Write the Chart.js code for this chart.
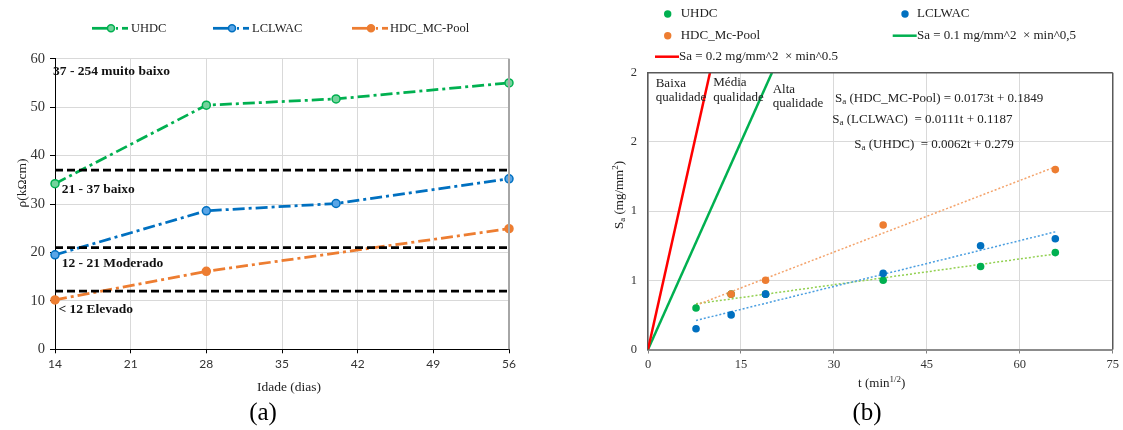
<!DOCTYPE html>
<html><head><meta charset="utf-8">
<script src="https://cdn.jsdelivr.net/npm/chart.js@4.4.0/dist/chart.umd.min.js"></script>
<style>
html,body{margin:0;padding:0;background:#fff;width:1123px;height:430px;overflow:hidden}
#wa{position:absolute;left:0;top:0;width:560px;height:430px}
#wb{position:absolute;left:560px;top:0;width:563px;height:430px}
canvas{display:block}
</style></head><body>
<div id="wa"><canvas id="ca" width="560" height="430"></canvas></div>
<div id="wb"><canvas id="cb" width="563" height="430"></canvas></div>
<script>
// ---------- (a) data ----------
const agesUHDC = [14, 28, 40, 56];
const rhoUHDC = [34.2, 50.4, 51.7, 55.0];
const agesLCLWAC = [14, 28, 40, 56];
const rhoLCLWAC = [19.5, 28.6, 30.1, 35.2];
const agesHDC = [14, 28, 56];
const rhoHDC = [10.2, 16.1, 24.9];
const thresholds = [37, 21, 12];
const ageRange = [14, 56];
const riskLabels = ['37 - 254 muito baixo', '21 - 37 baixo', '12 - 21 Moderado', '< 12 Elevado'];
const seriesNames = ['UHDC', 'LCLWAC', 'HDC_MC-Pool'];
const xTicksA = [14, 21, 28, 35, 42, 49, 56];
const yTicksA = [0, 10, 20, 30, 40, 50, 60];

// ---------- (b) data ----------
const tUHDC = [7.75, 13.42, 18.97, 37.95, 53.67, 65.73];
const sUHDC = [0.30, 0.40, 0.40, 0.50, 0.60, 0.70];
const tLCLWAC = [7.75, 13.42, 18.97, 37.95, 53.67, 65.73];
const sLCLWAC = [0.15, 0.25, 0.40, 0.55, 0.75, 0.80];
const tHDC = [13.42, 18.97, 37.95, 65.73];
const sHDC = [0.40, 0.50, 0.90, 1.30];
const trendT = [7.75, 65.73];
const trendUHDC = [0.33, 0.69];
const trendLCLWAC = [0.21, 0.85];
const trendHDC = [0.32, 1.32];
const limit02T = [0, 10], limit02S = [0, 2];
const limit01T = [0, 20], limit01S = [0, 2];
const legendB = ['UHDC', 'LCLWAC', 'HDC_Mc-Pool', 'Sa = 0.1 mg/mm^2  \u00d7 min^0,5', 'Sa = 0.2 mg/mm^2  \u00d7 min^0.5'];
const equations = [['(HDC_MC-Pool) = 0.0173t + 0.1849'], ['(LCLWAC)  = 0.0111t + 0.1187'], ['(UHDC)  = 0.0062t + 0.279']];
const zoneLabels = [['Baixa', 'qualidade'], ['M\u00e9dia', 'qualidade'], ['Alta', 'qualidade']];
const xTicksB = [0, 15, 30, 45, 60, 75];
const yTicksB = [0, 0.5, 1, 1.5, 2];

const SERIF = '"Liberation Serif", "Times New Roman", serif';
const GREEN = '#00b050', BLUE = '#0070c0', ORANGE = '#ed7d31';
const pts = (xs, ys) => xs.map((x, i) => ({x: x, y: ys[i]}));

function fnt(p, fam) { return (p.bold ? 'bold ' : '') + p.size + 'px ' + (p.fam || fam || SERIF); }
function drawRich(ctx, parts, x, y, align, color) {
  let w = 0;
  parts.forEach(p => { ctx.font = fnt(p); p.w = ctx.measureText(p.t).width; w += p.w; });
  let cx = align === 'center' ? x - w / 2 : (align === 'right' ? x - w : x);
  ctx.textAlign = 'left'; ctx.textBaseline = 'middle'; ctx.fillStyle = color || '#111';
  parts.forEach(p => { ctx.font = fnt(p); ctx.fillText(p.t, cx, y + (p.dy || 0)); cx += p.w; });
}
function dot(ctx, x, y, r, fill, stroke, lw) {
  ctx.beginPath(); ctx.arc(x, y, r, 0, Math.PI * 2);
  ctx.fillStyle = fill; ctx.fill();
  if (stroke) { ctx.lineWidth = lw || 1.5; ctx.strokeStyle = stroke; ctx.stroke(); }
}
function seg(ctx, x1, y1, x2, y2, color, lw, dash) {
  ctx.save(); ctx.beginPath(); ctx.setLineDash(dash || []); ctx.moveTo(x1, y1); ctx.lineTo(x2, y2);
  ctx.strokeStyle = color; ctx.lineWidth = lw; ctx.stroke(); ctx.restore();
}

// ---------- chart (a) ----------
const dashDot = [12, 4, 3, 4];
const thrSets = thresholds.map(t => ({
  data: pts(ageRange, [t, t]), borderColor: '#000', borderWidth: 2.75, borderDash: [8, 4],
  pointRadius: 0, fill: false, order: 0
}));
const annotA = {
  id: 'annotA',
  afterDraw(chart) {
    const ctx = chart.ctx, a = chart.chartArea;
    ctx.save();
    seg(ctx, a.right, a.top, a.right, a.bottom, '#a6a6a6', 2);
    const items = [
      {x: 92, c: GREEN, f: '#74d39c', tx: 131, name: seriesNames[0]},
      {x: 213, c: BLUE, f: '#5aa5e6', tx: 252, name: seriesNames[1]},
      {x: 352, c: ORANGE, f: ORANGE, tx: 390, name: seriesNames[2]}
    ];
    const ly = 28.3;
    items.forEach(it => {
      seg(ctx, it.x, ly, it.x + 18, ly, it.c, 2.75);
      dot(ctx, it.x + 19, ly, 3.5, it.f, it.c, 1.5);
      seg(ctx, it.x + 24, ly, it.x + 26, ly, it.c, 2.75);
      seg(ctx, it.x + 30, ly, it.x + 36, ly, it.c, 2.75);
      drawRich(ctx, [{t: it.name, size: 12.5}], it.tx, ly, 'left', '#222');
    });
    const lp = [[53, 71.7], [61.7, 189.3], [61.7, 263.3], [58.5, 310]];
    riskLabels.forEach((s, i) => drawRich(ctx, [{t: s, size: 13.5, bold: true}], lp[i][0], lp[i][1], 'left', '#111'));
    ctx.save(); ctx.translate(22, 183); ctx.rotate(-Math.PI / 2);
    drawRich(ctx, [{t: '\u03c1(k\u03a9cm)', size: 13.5}], 0, 0, 'center', '#222');
    ctx.restore();
    drawRich(ctx, [{t: 'Idade (dias)', size: 13.5}], 289, 387, 'center', '#222');
    drawRich(ctx, [{t: '(a)', size: 25}], 263, 413, 'center', '#000');
    ctx.restore();
  }
};
new Chart(document.getElementById('ca'), {
  type: 'line',
  data: {
    datasets: [
      {label: seriesNames[0], data: pts(agesUHDC, rhoUHDC), borderColor: GREEN, borderWidth: 2.75, borderDash: dashDot, clip: false,
        pointRadius: 4, pointBackgroundColor: '#74d39c', pointBorderColor: GREEN, pointBorderWidth: 1.5, fill: false, order: 1},
      {label: seriesNames[1], data: pts(agesLCLWAC, rhoLCLWAC), borderColor: BLUE, borderWidth: 2.75, borderDash: dashDot, clip: false,
        pointRadius: 4, pointBackgroundColor: '#5aa5e6', pointBorderColor: BLUE, pointBorderWidth: 1.5, fill: false, order: 1},
      {label: seriesNames[2], data: pts(agesHDC, rhoHDC), borderColor: ORANGE, borderWidth: 2.75, borderDash: dashDot, clip: false,
        pointRadius: 4, pointBackgroundColor: ORANGE, pointBorderColor: ORANGE, pointBorderWidth: 1.5, fill: false, order: 1},
      ...thrSets
    ]
  },
  options: {
    responsive: false, animation: false, devicePixelRatio: 1,
    layout: {padding: {left: 0, right: 51, top: 58.7, bottom: 0}},
    plugins: {legend: {display: false}, tooltip: {enabled: false}},
    elements: {line: {tension: 0}},
    scales: {
      x: {type: 'linear', min: ageRange[0], max: ageRange[1],
        afterBuildTicks: s => { s.ticks = xTicksA.map(v => ({value: v})); },
        afterFit: s => { s.height = 430 - 349.3; },
        grid: {color: '#d9d9d9', lineWidth: 1, tickLength: 4, tickColor: '#000'},
        border: {color: '#000', width: 1},
        ticks: {padding: 4, color: '#333', font: {family: 'Lato, "Liberation Sans", sans-serif', size: 12}, maxRotation: 0, autoSkip: false}},
      y: {min: 0, max: 60,
        afterBuildTicks: s => { s.ticks = yTicksA.map(v => ({value: v})); },
        afterFit: s => { s.width = 55; },
        grid: {color: '#d9d9d9', lineWidth: 1, tickLength: 5, tickColor: '#000'},
        border: {color: '#000', width: 1},
        ticks: {padding: 5, color: '#333', font: {family: SERIF, size: 14.5}}}
    }
  },
  plugins: [annotA]
});

// ---------- chart (b) ----------
const annotB = {
  id: 'annotB',
  afterDraw(chart) {
    const ctx = chart.ctx, a = chart.chartArea;
    ctx.save();
    seg(ctx, a.left, a.top, a.right, a.top, '#595959', 1.5);
    seg(ctx, a.right, a.top, a.right, a.bottom, '#595959', 1.5);
    dot(ctx, 107.7, 14, 3.7, GREEN);
    drawRich(ctx, [{t: legendB[0], size: 13}], 120.7, 14, 'left', '#222');
    dot(ctx, 345, 14, 3.7, BLUE);
    drawRich(ctx, [{t: legendB[1], size: 13}], 357, 14, 'left', '#222');
    dot(ctx, 107.7, 35.7, 3.7, ORANGE);
    drawRich(ctx, [{t: legendB[2], size: 13}], 120.7, 35.7, 'left', '#222');
    seg(ctx, 332.7, 35.7, 356.7, 35.7, GREEN, 2.5);
    drawRich(ctx, [{t: legendB[3], size: 13}], 357, 35.7, 'left', '#222');
    seg(ctx, 95, 56.7, 119, 56.7, '#ff0000', 2.5);
    drawRich(ctx, [{t: legendB[4], size: 13}], 119, 56.7, 'left', '#222');
    const zp = [[95.7, 83.3, 97.7], [153.3, 83, 98], [212.7, 89.3, 103.3]];
    zoneLabels.forEach((z, i) => {
      drawRich(ctx, [{t: z[0], size: 13}], zp[i][0], zp[i][1], 'left', '#222');
      drawRich(ctx, [{t: z[1], size: 13}], zp[i][0], zp[i][2], 'left', '#222');
    });
    const ep = [[275, 99], [272.3, 119.3], [294.3, 145]];
    equations.forEach((e, i) => {
      drawRich(ctx, [{t: 'S', size: 13}, {t: 'a', size: 9, dy: 3}, {t: ' ' + e[0], size: 13}], ep[i][0], ep[i][1], 'left', '#222');
    });
    ctx.save(); ctx.translate(60, 195); ctx.rotate(-Math.PI / 2);
    drawRich(ctx, [{t: 'S', size: 13}, {t: 'a', size: 9, dy: 3}, {t: ' (mg/mm', size: 13}, {t: '2', size: 9, dy: -4}, {t: ')', size: 13}], 0, 0, 'center', '#222');
    ctx.restore();
    drawRich(ctx, [{t: 't (min', size: 13}, {t: '1/2', size: 9, dy: -4}, {t: ')', size: 13}], 321.7, 384, 'center', '#222');
    drawRich(ctx, [{t: '(b)', size: 25}], 307, 413, 'center', '#000');
    ctx.restore();
  }
};
new Chart(document.getElementById('cb'), {
  type: 'scatter',
  data: {
    datasets: [
      {label: legendB[4], data: pts(limit02T, limit02S), showLine: true, borderColor: '#ff0000', borderWidth: 2.5, pointRadius: 0, order: 5},
      {label: legendB[3], data: pts(limit01T, limit01S), showLine: true, borderColor: GREEN, borderWidth: 2.5, pointRadius: 0, order: 5},
      {data: pts(trendT, trendHDC), showLine: true, borderColor: '#f4a36b', borderWidth: 1.5, borderDash: [2, 2], pointRadius: 0, order: 4},
      {data: pts(trendT, trendLCLWAC), showLine: true, borderColor: '#4a9ee0', borderWidth: 1.5, borderDash: [2, 2], pointRadius: 0, order: 4},
      {data: pts(trendT, trendUHDC), showLine: true, borderColor: '#92d050', borderWidth: 1.5, borderDash: [2, 2], pointRadius: 0, order: 4},
      {label: legendB[0], data: pts(tUHDC, sUHDC), pointRadius: 3.8, pointBackgroundColor: GREEN, pointBorderWidth: 0, order: 3},
      {label: legendB[2], data: pts(tHDC, sHDC), pointRadius: 3.8, pointBackgroundColor: ORANGE, pointBorderWidth: 0, order: 2},
      {label: legendB[1], data: pts(tLCLWAC, sLCLWAC), pointRadius: 3.8, pointBackgroundColor: BLUE, pointBorderWidth: 0, order: 1}
    ]
  },
  options: {
    responsive: false, animation: false, devicePixelRatio: 1,
    layout: {padding: {left: 0, right: 7.3, top: 72.7, bottom: 0}},
    plugins: {legend: {display: false}, tooltip: {enabled: false}},
    scales: {
      x: {type: 'linear', min: 0, max: 75,
        afterBuildTicks: s => { s.ticks = xTicksB.map(v => ({value: v})); },
        afterFit: s => { s.height = 430 - 349.5; },
        grid: {color: '#d9d9d9', lineWidth: 1, tickLength: 4, tickColor: '#808080'},
        border: {color: '#8c8c8c', width: 2},
        ticks: {padding: 4, color: '#333', font: {family: SERIF, size: 12.5}, maxRotation: 0, autoSkip: false}},
      y: {min: 0, max: 2,
        afterBuildTicks: s => { s.ticks = yTicksB.map(v => ({value: v})); },
        afterFit: s => { s.width = 88; },
        grid: {color: '#d9d9d9', lineWidth: 1, drawTicks: false},
        border: {color: '#595959', width: 1.5},
        ticks: {padding: 11, color: '#333', font: {family: SERIF, size: 12.5}, callback: v => String(Math.round(v))}}
    }
  },
  plugins: [annotB]
});
</script>
</body></html>
